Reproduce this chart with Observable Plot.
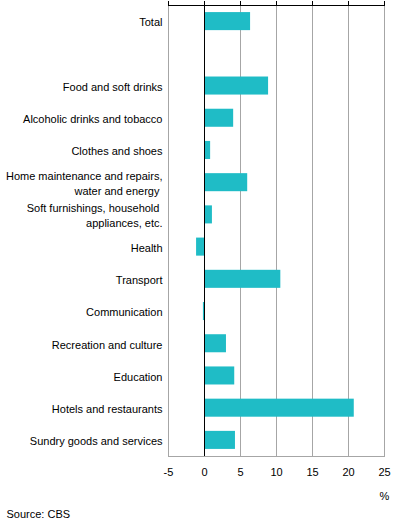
<!DOCTYPE html>
<html>
<head>
<meta charset="utf-8">
<script src="https://cdn.jsdelivr.net/npm/d3@7"></script>
<script src="https://cdn.jsdelivr.net/npm/@observablehq/plot@0.6"></script>
<style>
  html, body { margin: 0; padding: 0; background: #fff; }
  #chart svg { display: block; }
</style>
</head>
<body>
<div id="chart"></div>
<script>
const categories = [
  "Total",
  " ",
  "Food and soft drinks",
  "Alcoholic drinks and tobacco",
  "Clothes and shoes",
  "Home maintenance and repairs,\nwater and energy ",
  "Soft furnishings, household \nappliances, etc.",
  "Health",
  "Transport",
  "Communication",
  "Recreation and culture",
  "Education",
  "Hotels and restaurants",
  "Sundry goods and services"
];
const barCategories = categories.filter(c => c !== " ");
const values = [6.4, 8.9, 4.05, 0.85, 6.0, 1.1, -1.1, 10.6, -0.15, 3.05, 4.2, 20.8, 4.3];
const xTicks = [-5, 0, 5, 10, 15, 20, 25];
const gridTicks = [-5, 5, 10, 15, 20, 25];

const data = barCategories.map((c, i) => ({category: c, value: values[i]}));

const chart = Plot.plot({
  width: 396,
  height: 526,
  marginTop: 5,
  marginBottom: 70,
  marginLeft: 168,
  marginRight: 12,
  style: {fontFamily: "'Liberation Sans', Arial, sans-serif", fontSize: "11px", color: "#000", background: "#fff"},
  x: {domain: [-5, 25], ticks: xTicks, label: null},
  y: {domain: categories, paddingInner: 0.44, paddingOuter: 0.22, align: 0.5, round: false, label: null},
  marks: [
    Plot.ruleX(gridTicks, {stroke: "#a6a6a6", strokeOpacity: 1}),
    Plot.frame({stroke: "#a6a6a6", strokeOpacity: 1}),
    Plot.barX(data, {x: "value", y: "category", fill: "#1fbcc6"}),
    Plot.ruleX([0], {stroke: "#000", strokeOpacity: 1}),
    Plot.frame({anchor: "top", stroke: "#000", strokeOpacity: 1}),
    Plot.ruleX(xTicks, {stroke: "#000", strokeOpacity: 1, insetTop: -4, insetBottom: 451}),
    Plot.axisX({anchor: "bottom", ticks: xTicks, tickSize: 0, tickPadding: 12, label: null, tickFormat: d => String(d), fill: "#000"}),
    Plot.axisY({tickSize: 0, tickPadding: 6, label: null, lineHeight: 1.35, tickFormat: d => d === " " ? "" : d, fill: "#000"}),
    Plot.text(["%"], {frameAnchor: "bottom-right", dy: 43, textAnchor: "middle", fill: "#000"}),
    Plot.text(["Source: CBS"], {frameAnchor: "bottom-left", dx: -162, dy: 61, textAnchor: "start", fill: "#000"})
  ]
});
document.getElementById("chart").appendChild(chart);
</script>
</body>
</html>
